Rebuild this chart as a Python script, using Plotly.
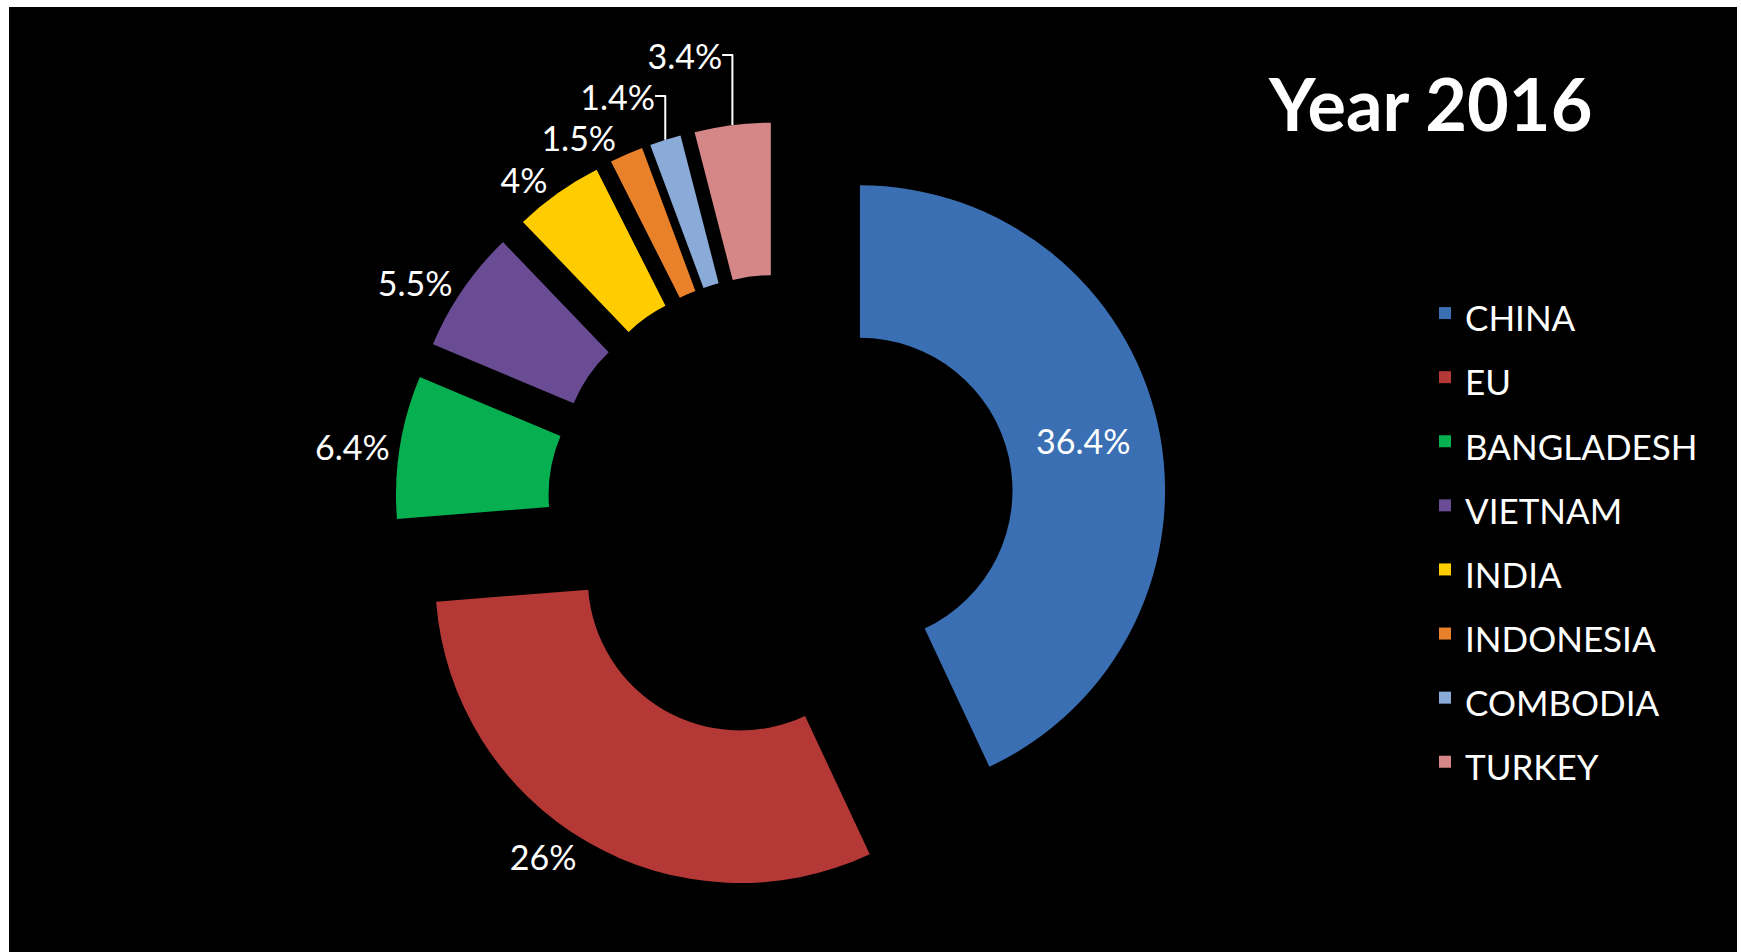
import plotly.graph_objects as go

countries = ["CHINA", "EU", "BANGLADESH", "VIETNAM", "INDIA", "INDONESIA", "COMBODIA", "TURKEY"]
shares = [36.4, 26, 6.4, 5.5, 4, 1.5, 1.4, 3.4]
share_labels = ["36.4%", "26%", "6.4%", "5.5%", "4%", "1.5%", "1.4%", "3.4%"]
colors = ["#3A6FB4", "#B43835", "#06B050", "#6A4C94", "#FFCC00", "#E8812A", "#8AAAD8", "#D58787"]
title_text = "Year 2016"

W, H = 1741, 952
cx, cy, half = 781, 508, 386

legend_labels = ["<span style='font-size:35px'>%s</span>" % c for c in countries]

fig = go.Figure()
fig.add_trace(go.Pie(
    labels=legend_labels,
    values=shares,
    text=share_labels,
    textinfo="text",
    hoverinfo="text+percent",
    hovertext=countries,
    hole=0.5,
    sort=False,
    direction="clockwise",
    rotation=0,
    pull=[0.265] * len(shares),
    marker=dict(colors=colors, line=dict(width=0)),
    textposition=["inside"] + ["outside"] * (len(shares) - 1),
    insidetextorientation="horizontal",
    textfont=dict(family="Lato", size=34, color="white"),
    domain=dict(x=[(cx - half) / W, (cx + half) / W],
                y=[1 - (cy + half) / H, 1 - (cy - half) / H]),
    showlegend=True,
))

fig.update_layout(
    width=W, height=H,
    margin=dict(l=0, r=0, t=0, b=0, autoexpand=False),
    paper_bgcolor="white",
    plot_bgcolor="black",
    shapes=[dict(type="rect", xref="paper", yref="paper",
                 x0=9 / W, x1=1737 / W, y0=0, y1=1 - 7 / H,
                 fillcolor="black", line=dict(width=0), layer="below")],
    annotations=[dict(text="<b>" + title_text + "</b>", xref="paper", yref="paper",
                      x=1430 / W, y=1 - 103 / H, xanchor="center", yanchor="middle",
                      showarrow=False, font=dict(family="Lato", size=72, color="white"))],
    legend=dict(x=1425 / W, y=1 - 276 / H, xanchor="left", yanchor="top",
                font=dict(family="Lato", size=47, color="white"),
                bgcolor="rgba(0,0,0,0)", itemwidth=30, valign="middle"),
)

fig.write_html("out.html")
